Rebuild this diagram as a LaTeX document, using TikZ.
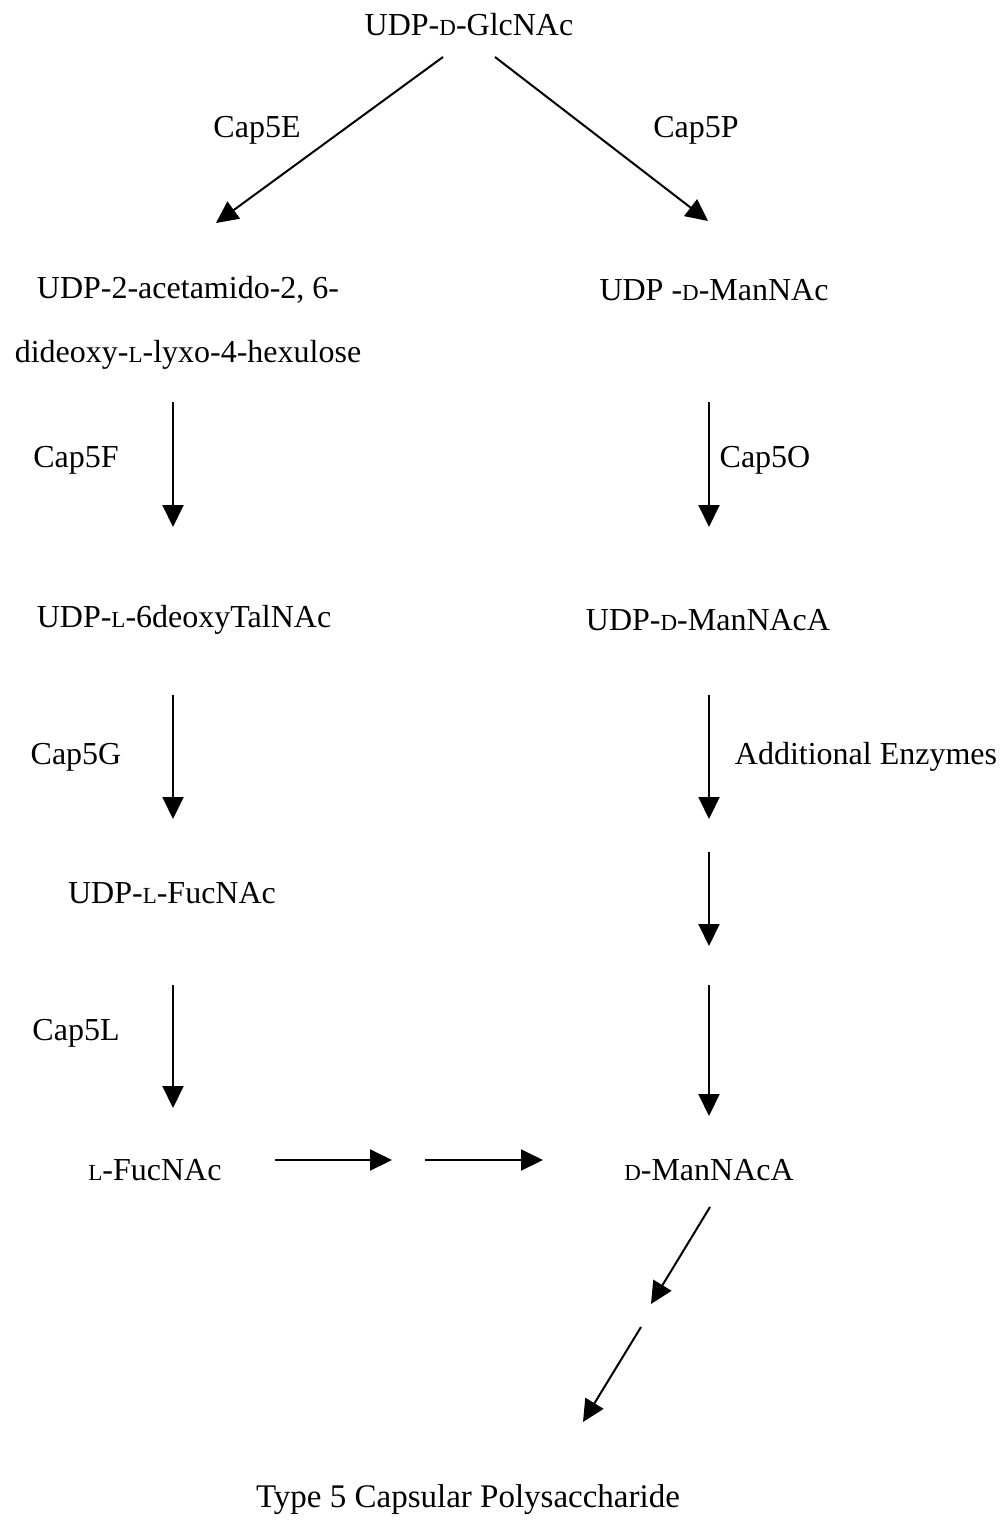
\documentclass[tikz,border=0pt]{standalone}
\usepackage{fontspec}
\setmainfont{Liberation Serif}
\usetikzlibrary{arrows.meta}
% small capital letters for the D/L configuration prefixes
\newcommand\cfg[1]{{\fontsize{23}{25}\selectfont #1}}
\begin{document}
\begin{tikzpicture}[x=1pt,y=-1pt,
  every node/.style={inner sep=0pt,font=\fontsize{32}{38}\selectfont},
  lbl/.style={anchor=center},
  rx/.style={line width=2pt,-{Triangle[length=22pt,width=21pt]}}]
\useasboundingbox (0,0) rectangle (1002,1528);

% compounds
\node[lbl] (glc)  at (469,25)  {UDP-\cfg{D}-GlcNAc};
\node[lbl] (hex1) at (188,290) {UDP-2-acetamido-2, 6-};
\node[lbl] (hex2) at (188,355) {dideoxy-\cfg{L}-lyxo-4-hexulose};
\node[lbl] (man)  at (714,290) {UDP -\cfg{D}-ManNAc};
\node[lbl] (tal)  at (184,620) {UDP-\cfg{L}-6deoxyTalNAc};
\node[lbl] (mana) at (708,620) {UDP-\cfg{D}-ManNAcA};
\node[lbl] (fucu) at (172,893) {UDP-\cfg{L}-FucNAc};
\node[lbl] (fuc)  at (155,1170) {\cfg{L}-FucNAc};
\node[lbl] (dman) at (709,1170) {\cfg{D}-ManNAcA};
\node[lbl,font=\fontsize{33}{39}\selectfont] (cps) at (468,1500) {Type 5 Capsular Polysaccharide};

% enzymes
\node[lbl] (e5e) at (257,130) {Cap5E};
\node[lbl] (e5p) at (696,130) {Cap5P};
\node[lbl] (e5f) at (76,460)  {Cap5F};
\node[lbl] (e5o) at (765,460) {Cap5O};
\node[lbl] (e5g) at (76,757)  {Cap5G};
\node[lbl] (add) at (866,757) {Additional Enzymes};
\node[lbl] (e5l) at (76,1033) {Cap5L};

% arrow end points
\coordinate (a1s) at (443,57);   \coordinate (a1e) at (216,223);
\coordinate (a2s) at (495,57);   \coordinate (a2e) at (708,221);
\coordinate (l1s) at (173,402);  \coordinate (l1e) at (173,527);
\coordinate (r1s) at (709,402);  \coordinate (r1e) at (709,527);
\coordinate (l2s) at (173,695);  \coordinate (l2e) at (173,819);
\coordinate (r2s) at (709,695);  \coordinate (r2e) at (709,819);
\coordinate (r3s) at (709,852);  \coordinate (r3e) at (709,946);
\coordinate (l3s) at (173,985);  \coordinate (l3e) at (173,1108);
\coordinate (r4s) at (709,985);  \coordinate (r4e) at (709,1116);
\coordinate (h1s) at (275,1160); \coordinate (h1e) at (392,1160);
\coordinate (h2s) at (425,1160); \coordinate (h2e) at (543,1160);
\coordinate (d1s) at (710,1207); \coordinate (d1e) at (651,1304);
\coordinate (d2s) at (641,1327); \coordinate (d2e) at (583,1422);

\draw[rx] (a1s) -- (a1e);
\draw[rx] (a2s) -- (a2e);
\draw[rx] (l1s) -- (l1e);
\draw[rx] (r1s) -- (r1e);
\draw[rx] (l2s) -- (l2e);
\draw[rx] (r2s) -- (r2e);
\draw[rx] (r3s) -- (r3e);
\draw[rx] (l3s) -- (l3e);
\draw[rx] (r4s) -- (r4e);
\draw[rx] (h1s) -- (h1e);
\draw[rx] (h2s) -- (h2e);
\draw[rx] (d1s) -- (d1e);
\draw[rx] (d2s) -- (d2e);
\end{tikzpicture}
\end{document}
